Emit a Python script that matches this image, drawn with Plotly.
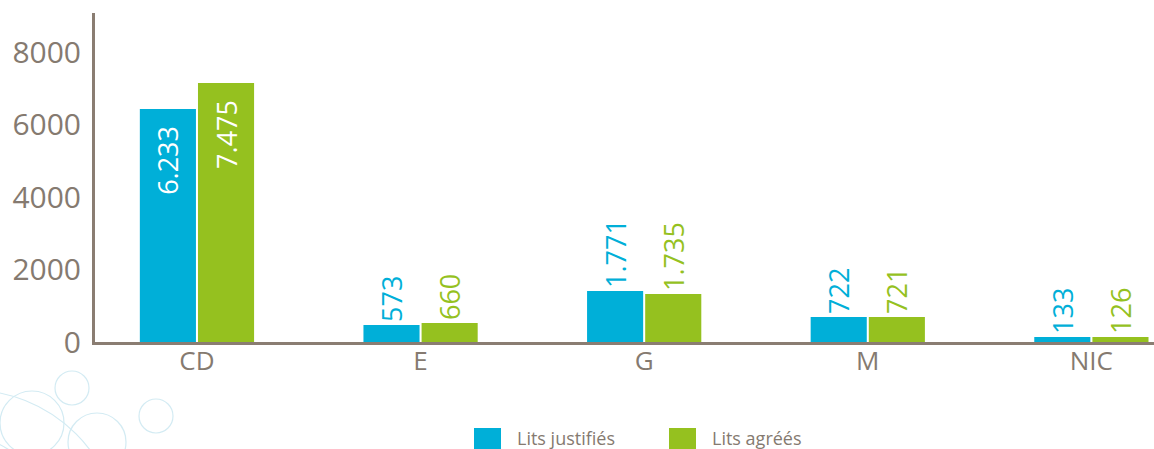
import plotly.graph_objects as go

categories = ["CD", "E", "G", "M", "NIC"]
series_names = ["Lits justifiés", "Lits agréés"]
# bar heights as drawn in the picture
justifies_values = [6428, 469, 1407, 690, 138]
agrees_values = [7145, 524, 1324, 690, 138]
# value labels printed on the bars
justifies_labels = ["6.233", "573", "1.771", "722", "133"]
agrees_labels = ["7.475", "660", "1.735", "721", "126"]
y_ticks = [0, 2000, 4000, 6000, 8000]

BLUE = "#00afd8"
GREEN = "#95c11f"
GREY = "#857a70"
FONT = "Open Sans"

W, H = 1154, 449
L, R, T, B = 95, 0, 13, 107
PW, PH = W - L - R, H - T - B


def px_x(x):
    return (x - L) / PW


def px_y(y):
    return 1 - (y - T) / PH


def positions(vals):
    return ["inside" if v > 3000 else "outside" for v in vals]


def pad(labels, vals):
    return [s + "\u00a0\u00a0" if v > 3000 else s for s, v in zip(labels, vals)]


fig = go.Figure()
for name, vals, labels, color in [
    (series_names[0], justifies_values, justifies_labels, BLUE),
    (series_names[1], agrees_values, agrees_labels, GREEN),
]:
    fig.add_trace(go.Bar(
        x=categories, y=vals, name=name,
        marker=dict(color=color, line=dict(width=0)),
        text=pad(labels, vals),
        textposition=positions(vals),
        textangle=-90,
        insidetextanchor="end",
        constraintext="none",
        insidetextfont=dict(family=FONT, size=27, color="white"),
        outsidetextfont=dict(family=FONT, size=27, color=color),
        cliponaxis=False,
        showlegend=False,
        hoverinfo="skip",
    ))

shapes = []
annotations = []
# manual legend
legend_items = [(series_names[0], BLUE, 474), (series_names[1], GREEN, 669)]
for name, color, x0 in legend_items:
    shapes.append(dict(type="rect", xref="paper", yref="paper",
                       x0=px_x(x0), x1=px_x(x0 + 27), y0=px_y(449), y1=px_y(428),
                       fillcolor=color, line=dict(width=0)))
    annotations.append(dict(xref="paper", yref="paper", x=px_x(x0 + 41), y=px_y(438),
                            text=name, showarrow=False, xanchor="left", yanchor="middle",
                            font=dict(family=FONT, size=18, color=GREY)))

# faint decorative circles bottom-left
circles = [(72, 388, 17), (156, 416, 17), (32, 423, 32), (97, 442, 29),
           (-30, 540, 150), (-60, 560, 130), (20, 470, 20)]
for cx, cy, r in circles:
    shapes.append(dict(type="circle", xref="paper", yref="paper", layer="below",
                       x0=px_x(cx - r), x1=px_x(cx + r), y0=px_y(cy + r), y1=px_y(cy - r),
                       line=dict(color="#d3ebf3", width=1.2)))

fig.update_layout(
    width=W, height=H,
    margin=dict(l=L, r=R, t=T, b=B),
    paper_bgcolor="white", plot_bgcolor="white",
    barmode="group", bargap=0.48, bargroupgap=0.035,
    shapes=shapes, annotations=annotations,
    font=dict(family=FONT, color=GREY),
)
fig.update_xaxes(
    range=[-0.456, 4.28], showline=True, linecolor="#8a7d72", linewidth=3,
    ticks="", ticklen=0, showgrid=False, zeroline=False,
    tickfont=dict(family=FONT, size=26, color=GREY), ticklabelstandoff=-6,
)
fig.update_yaxes(
    range=[0, 9076], tickvals=y_ticks, ticktext=[str(v) for v in y_ticks],
    showline=True, linecolor="#8a7d72", linewidth=3,
    ticks="", ticklen=0, showgrid=False, zeroline=False,
    tickfont=dict(family=FONT, size=30, color=GREY), ticklabelstandoff=5,
)
fig.write_html(
    "out.html",
    config={"displayModeBar": False},
    post_script="document.body.style.margin='0px';document.body.style.overflow='hidden';",
)
